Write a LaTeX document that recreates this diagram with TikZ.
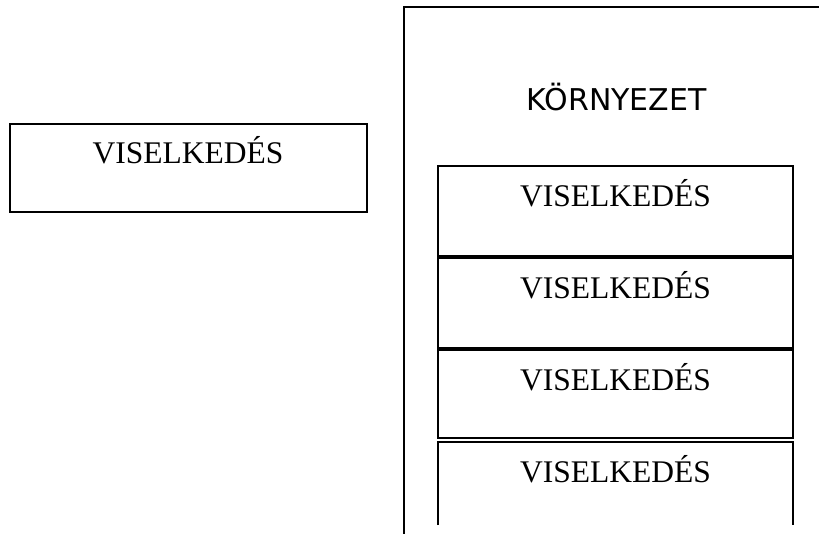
\documentclass[tikz,border=0pt]{standalone}
\usepackage{fontspec}
\setmainfont{Liberation Serif}
\newfontfamily\kfont{DejaVu Sans}
\begin{document}
\begin{tikzpicture}[x=1pt,y=-1pt,
  boxline/.style={draw=black,line width=1.6pt},
  lbl/.style={font=\fontsize{31.5}{36}\selectfont,anchor=base,inner sep=0pt},
  klbl/.style={font=\kfont\fontsize{30}{34}\selectfont,anchor=base,inner sep=0pt}]
\useasboundingbox (0,0) rectangle (819,533);
\clip (0,0) rectangle (819,533);
% left box
\draw[boxline] (10,124) rectangle (367,212);
\node[lbl] (t0) at (188,163) {VISELKEDÉS};
% environment box (open at bottom and right)
\draw[boxline] (404,540) -- (404,7) -- (830,7);
\node[klbl] (env) at (616.5,110) {KÖRNYEZET};
% inner boxes
\draw[boxline] (438,166) rectangle (793,256);
\node[lbl] (t1) at (615.5,206) {VISELKEDÉS};
\draw[boxline] (438,258) rectangle (793,348);
\node[lbl] (t2) at (615.5,298) {VISELKEDÉS};
\draw[boxline] (438,350) rectangle (793,438);
\node[lbl] (t3) at (615.5,390) {VISELKEDÉS};
\draw[boxline] (438,525) -- (438,442) -- (793,442) -- (793,525);
\node[lbl] (t4) at (615.5,482) {VISELKEDÉS};
\end{tikzpicture}
\end{document}
